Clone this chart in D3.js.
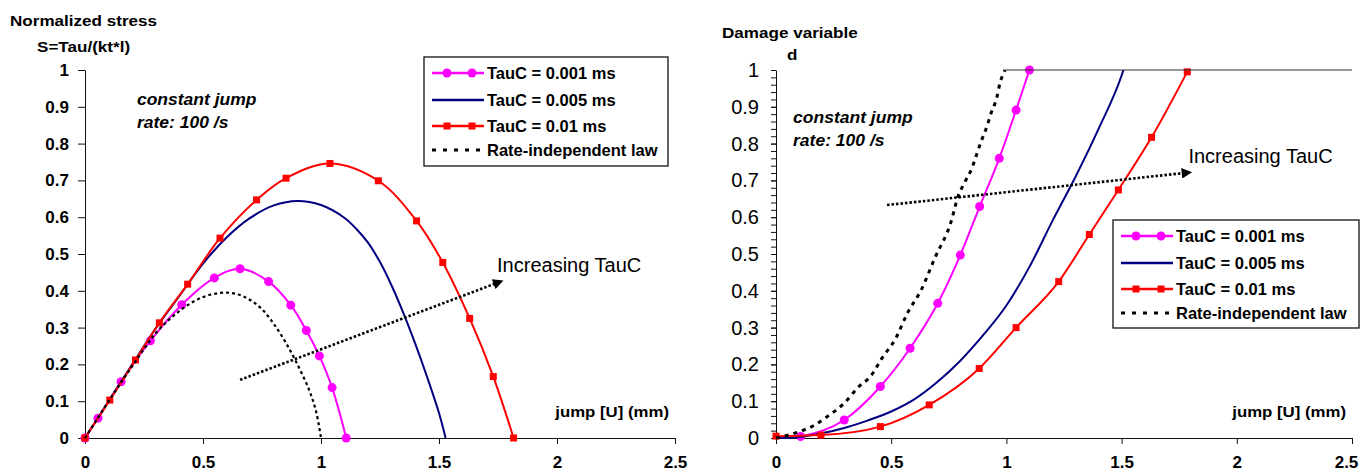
<!DOCTYPE html>
<html>
<head>
<meta charset="utf-8">
<script src="https://cdn.jsdelivr.net/npm/d3@7"></script>
<style>
body { margin: 0; background: #fff; }
text { font-family: Arial, "Liberation Sans", sans-serif; fill: #000; }
</style>
</head>
<body>
<svg width="1362" height="475"></svg>
<script>
// ticks
const jumpTicks = [0, 0.5, 1, 1.5, 2, 2.5];
const valueTicks = [0, 0.1, 0.2, 0.3, 0.4, 0.5, 0.6, 0.7, 0.8, 0.9, 1];
const seriesNames = ["TauC = 0.001 ms", "TauC = 0.005 ms", "TauC = 0.01 ms", "Rate-independent law"];

// left chart: normalized stress vs jump
const stressPinkJump = [0, 0.055, 0.153, 0.277, 0.41, 0.548, 0.657, 0.778, 0.872, 0.938, 0.993, 1.047, 1.107];
const stressPink     = [0, 0.054, 0.153, 0.264, 0.362, 0.435, 0.46, 0.425, 0.361, 0.292, 0.223, 0.137, 0];
const stressBlueJump = [0, 0.1, 0.2, 0.3, 0.4, 0.5, 0.6, 0.7, 0.8, 0.9, 1.0, 1.1, 1.15, 1.2, 1.25, 1.3, 1.35, 1.4, 1.45, 1.5, 1.528];
const stressBlue     = [0, 0.1, 0.2, 0.298, 0.386, 0.474, 0.545, 0.598, 0.632, 0.644, 0.633, 0.598, 0.568, 0.53, 0.478, 0.413, 0.338, 0.255, 0.165, 0.068, 0];
const stressRedJump  = [0, 0.105, 0.214, 0.315, 0.435, 0.572, 0.727, 0.852, 1.038, 1.243, 1.405, 1.516, 1.63, 1.73, 1.816];
const stressRed      = [0, 0.103, 0.212, 0.313, 0.418, 0.543, 0.647, 0.706, 0.746, 0.699, 0.59, 0.477, 0.325, 0.167, 0];
const stressLawJump  = [0, 0.05, 0.1, 0.15, 0.2, 0.25, 0.3, 0.35, 0.4, 0.45, 0.5, 0.55, 0.6, 0.65, 0.7, 0.75, 0.8, 0.85, 0.9, 0.95, 0.98, 1.0];
const stressLaw      = [0, 0.05, 0.1, 0.148, 0.195, 0.242, 0.285, 0.318, 0.345, 0.367, 0.383, 0.392, 0.395, 0.39, 0.375, 0.35, 0.31, 0.26, 0.2, 0.13, 0.07, 0];

// right chart: damage variable vs jump
const damagePinkJump = [0.107, 0.296, 0.453, 0.582, 0.702, 0.8, 0.884, 0.969, 1.042, 1.1];
const damagePink     = [0.004, 0.049, 0.14, 0.244, 0.366, 0.497, 0.629, 0.76, 0.891, 1.0];
const damageBlueJump = [0, 0.1, 0.2, 0.3, 0.4, 0.5, 0.6, 0.7, 0.8, 0.9, 1.0, 1.1, 1.2, 1.3, 1.4, 1.5, 1.508];
const damageBlue     = [0, 0.003, 0.013, 0.028, 0.048, 0.072, 0.105, 0.152, 0.21, 0.28, 0.36, 0.465, 0.59, 0.71, 0.84, 0.985, 1.0];
const damageRedJump  = [0, 0.195, 0.453, 0.665, 0.882, 1.042, 1.227, 1.36, 1.486, 1.63, 1.785];
const damageRed      = [0.005, 0.008, 0.031, 0.09, 0.189, 0.3, 0.425, 0.553, 0.674, 0.817, 0.995];
const damageLawJump  = [0, 0.1, 0.167, 0.222, 0.295, 0.36, 0.41, 0.46, 0.52, 0.57, 0.63, 0.69, 0.76, 0.79, 0.82, 0.85, 0.87, 0.89, 0.915, 0.936, 0.958, 0.972, 0.994];
const damageLaw      = [0, 0.017, 0.035, 0.058, 0.094, 0.14, 0.167, 0.217, 0.271, 0.339, 0.402, 0.49, 0.588, 0.656, 0.696, 0.733, 0.769, 0.805, 0.846, 0.887, 0.924, 0.964, 1.0];
const brokenJump     = [0.994, 2.5];
const broken         = [1, 1];

const zip = (xs, ys) => xs.map((x, i) => ({ x: x, y: ys[i] }));

const svg = d3.select('svg');

const defs = svg.append('defs');
defs.append('marker')
  .attr('id', 'arrow')
  .attr('viewBox', '0 0 10 10')
  .attr('refX', 2).attr('refY', 5)
  .attr('markerWidth', 5).attr('markerHeight', 4)
  .attr('orient', 'auto')
  .append('path')
  .attr('d', 'M0,0 L10,5 L0,10 z')
  .attr('fill', '#000');

// stretched text helper
function label(g, x, y, txt, size, weight, sx, style) {
  return g.append('text')
    .attr('transform', `translate(${x},${y}) scale(${sx},1)`)
    .style('font-size', size + 'px')
    .style('font-weight', weight)
    .style('font-style', style || 'normal')
    .text(txt);
}

function drawChart(opt) {
  const g = svg.append('g');
  const x = d3.scaleLinear().domain([0, 2.5]).range(opt.xRange);
  const y = d3.scaleLinear().domain([0, 1]).range([438, 70]);

  // x axis
  const xAxis = g.append('g')
    .attr('transform', 'translate(0,438)')
    .call(d3.axisBottom(x).tickValues(jumpTicks).tickFormat(d => d).tickSize(6).tickSizeOuter(0).tickPadding(12));
  xAxis.selectAll('text').style('font-size', '17px').style('font-weight', 'bold');
  // keep the last label inside the page
  xAxis.selectAll('text').filter(d => d === 2.5).attr('dx', opt.lastShift);

  // y axis
  if (opt.minor) {
    g.append('g')
      .attr('transform', `translate(${opt.xRange[0]},0)`)
      .call(d3.axisLeft(y).tickValues(d3.range(0, 1.001, 0.02)).tickFormat('').tickSize(5).tickSizeOuter(0))
      .select('.domain').remove();
  }
  const yAxis = g.append('g')
    .attr('transform', `translate(${opt.xRange[0]},0)`)
    .call(d3.axisLeft(y).tickValues(valueTicks).tickFormat(d => d).tickSize(opt.tick).tickSizeOuter(0).tickPadding(opt.pad));
  yAxis.selectAll('text').style('font-size', opt.yFont + 'px').style('font-weight', opt.yWeight);
  g.selectAll('.domain, .tick line').attr('stroke', '#111');

  const line = d3.line().x(d => x(d.x)).y(d => y(d.y)).curve(opt.curve);

  opt.series.forEach(s => {
    const pts = zip(s.xs, s.ys);
    g.append('path')
      .datum(pts)
      .attr('d', line)
      .attr('fill', 'none')
      .attr('stroke', s.color)
      .attr('stroke-width', s.width)
      .attr('stroke-dasharray', s.dash || null);
    if (s.marker === 'circle') {
      g.selectAll(null).data(pts).enter().append('circle')
        .attr('cx', d => x(d.x)).attr('cy', d => y(d.y)).attr('r', 4.5)
        .attr('fill', s.color);
    } else if (s.marker === 'square') {
      g.selectAll(null).data(pts).enter().append('rect')
        .attr('x', d => x(d.x) - 3.5).attr('y', d => y(d.y) - 3.5)
        .attr('width', 7).attr('height', 7)
        .attr('fill', s.color);
    }
  });

  // arrow annotation
  g.append('line')
    .attr('x1', x(opt.arrow[0])).attr('y1', y(opt.arrow[1]))
    .attr('x2', x(opt.arrow[2])).attr('y2', y(opt.arrow[3]))
    .attr('stroke', '#000').attr('stroke-width', 2.6)
    .attr('stroke-dasharray', '2.5,2')
    .attr('marker-end', 'url(#arrow)');
  label(g, x(opt.arrowText[0]), y(opt.arrowText[1]), 'Increasing TauC', 20, 'normal', 1);

  label(g, x(opt.note[0]), y(opt.note[1]), 'constant jump', 17, 'bold', 1.03, 'italic');
  label(g, x(opt.note[0]), y(opt.note[1]) + 23, 'rate: 100 /s', 17, 'bold', 1.03, 'italic');

  label(g, opt.xRange[1] - 6, 417, 'jump [U] (mm)', 14, 'bold', 1.2).attr('text-anchor', 'end');

  label(g, opt.title[0], opt.title[1], opt.title[2], 14, 'bold', 1.22);
  label(g, opt.sub[0], opt.sub[1], opt.sub[2], 14, 'bold', 1.22);

  // legend
  const L = opt.legend;
  const lg = g.append('g').attr('transform', `translate(${L[0]},${L[1]})`);
  lg.append('rect').attr('width', L[2]).attr('height', L[3])
    .attr('fill', '#fff').attr('stroke', '#111').attr('stroke-width', 1.3);
  const rows = [16, 43, 69, 93];
  opt.series.slice(0, 4).forEach((s, i) => {
    const row = lg.append('g').attr('transform', `translate(0,${rows[i]})`);
    row.append('line').attr('x1', 8).attr('x2', 60).attr('y1', 0).attr('y2', 0)
      .attr('stroke', s.color)
      .attr('stroke-width', s.dash ? 3 : 2.4)
      .attr('stroke-dasharray', s.dash ? '4,7' : null);
    [23, 48].forEach(mx => {
      if (s.marker === 'circle') row.append('circle').attr('cx', mx).attr('cy', 0).attr('r', 4.5).attr('fill', s.color);
      if (s.marker === 'square') row.append('rect').attr('x', mx - 3.5).attr('y', -3.5).attr('width', 7).attr('height', 7).attr('fill', s.color);
    });
    row.append('text').attr('x', 63).attr('y', 6)
      .style('font-size', '16.5px').style('font-weight', 'bold')
      .text(seriesNames[i]);
  });
}

drawChart({
  xRange: [85, 675],
  tick: 7, pad: 9, yFont: 17, yWeight: 'bold', minor: false, lastShift: 0,
  curve: d3.curveCatmullRom.alpha(0.5),
  series: [
    { xs: stressPinkJump, ys: stressPink, color: '#ff00ff', width: 2, marker: 'circle' },
    { xs: stressBlueJump, ys: stressBlue, color: '#000080', width: 2 },
    { xs: stressRedJump, ys: stressRed, color: '#ff0000', width: 2, marker: 'square' },
    { xs: stressLawJump, ys: stressLaw, color: '#000', width: 2.2, dash: '3,3' }
  ],
  arrow: [0.657, 0.158, 1.74, 0.42],
  arrowText: [1.746, 0.451],
  note: [0.22, 0.905],
  title: [10, 26, 'Normalized stress'],
  sub: [37, 52, 'S=Tau/(kt*l)'],
  legend: [424, 57, 244, 109]
});

drawChart({
  xRange: [776, 1352],
  tick: 5, pad: 12, yFont: 20, yWeight: 'normal', minor: true, lastShift: -6,
  curve: d3.curveMonotoneX,
  series: [
    { xs: damagePinkJump, ys: damagePink, color: '#ff00ff', width: 2, marker: 'circle' },
    { xs: damageBlueJump, ys: damageBlue, color: '#000080', width: 2 },
    { xs: damageRedJump, ys: damageRed, color: '#ff0000', width: 2, marker: 'square' },
    { xs: damageLawJump, ys: damageLaw, color: '#000', width: 3, dash: '4,5' },
    { xs: brokenJump, ys: broken, color: '#333', width: 1.2 }
  ],
  arrow: [0.482, 0.633, 1.77, 0.72],
  arrowText: [1.79, 0.747],
  note: [0.074, 0.857],
  title: [722, 38, 'Damage variable'],
  sub: [787, 60, 'd'],
  legend: [1113, 220, 246, 108]
});
</script>
</body>
</html>
